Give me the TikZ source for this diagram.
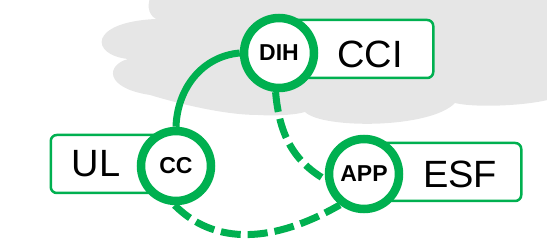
\documentclass[tikz,border=0pt]{standalone}
\usepackage{fontspec}
\setmainfont{Liberation Sans}
\usetikzlibrary{positioning}
\definecolor{hubgreen}{HTML}{00B050}
\definecolor{cloudgray}{HTML}{E6E6E6}

\begin{document}
\begin{tikzpicture}[
    x=1pt, y=1pt,
    hub/.style={circle, draw=hubgreen, line width=8.5pt, fill=white,
                minimum size=70pt, inner sep=0pt,
                font=\fontsize{23}{23}\selectfont\bfseries},
    tag/.style={rectangle, draw=hubgreen, line width=2.5pt,
                rounded corners=6pt, fill=white, minimum height=58pt},
    lbl/.style={font=\fontsize{38}{38}\selectfont},
    link/.style={draw=hubgreen, line width=7pt},
    dashlink/.style={link, dash pattern=on 20pt off 7pt}
]
    \clip (0,0) rectangle (547,243);

    % cloud in the background
    \fill[cloudgray] (555,250) -- (152,250)
        .. controls (147,240) and (147,229) .. (156,224)
        .. controls (88,221) and (90,188) .. (128,184)
        .. controls (106,178) and (104,155) .. (150,148)
        .. controls (190,136) and (230,128) .. (258,128)
        .. controls (275,127) and (295,128) .. (305,131)
        .. controls (322,114) and (430,114) .. (455,140)
        .. controls (475,135) and (530,137) .. (555,145)
        -- cycle;

    % label boxes
    \node[tag, minimum width=153pt, anchor=west] (ccibox) at (279,194) {};
    \node[tag, minimum width=124pt, anchor=east] (ulbox) at (176,79) {};
    \node[tag, minimum width=156pt, anchor=west] (esfbox) at (364,71) {};

    \node[lbl] (cci) at (370,189) {CCI};
    \node[lbl] (ul) at (96,79) {UL};
    \node[lbl] (esf) at (460,69) {ESF};

    % hubs
    \node[hub] (dih) at (279,190) {DIH};
    \node[hub] (cc) at (176,77) {CC};
    \node[hub] (app) at (364,69) {APP};

    \draw[link] (cc.north) to[out=88, in=185] (dih.west);
    \draw[dashlink] (dih.-95) to[out=-85, in=150] (app.188);
    \draw[dashlink] (cc.-92) to[out=-45, in=-150] (app.-128);
\end{tikzpicture}
\end{document}
